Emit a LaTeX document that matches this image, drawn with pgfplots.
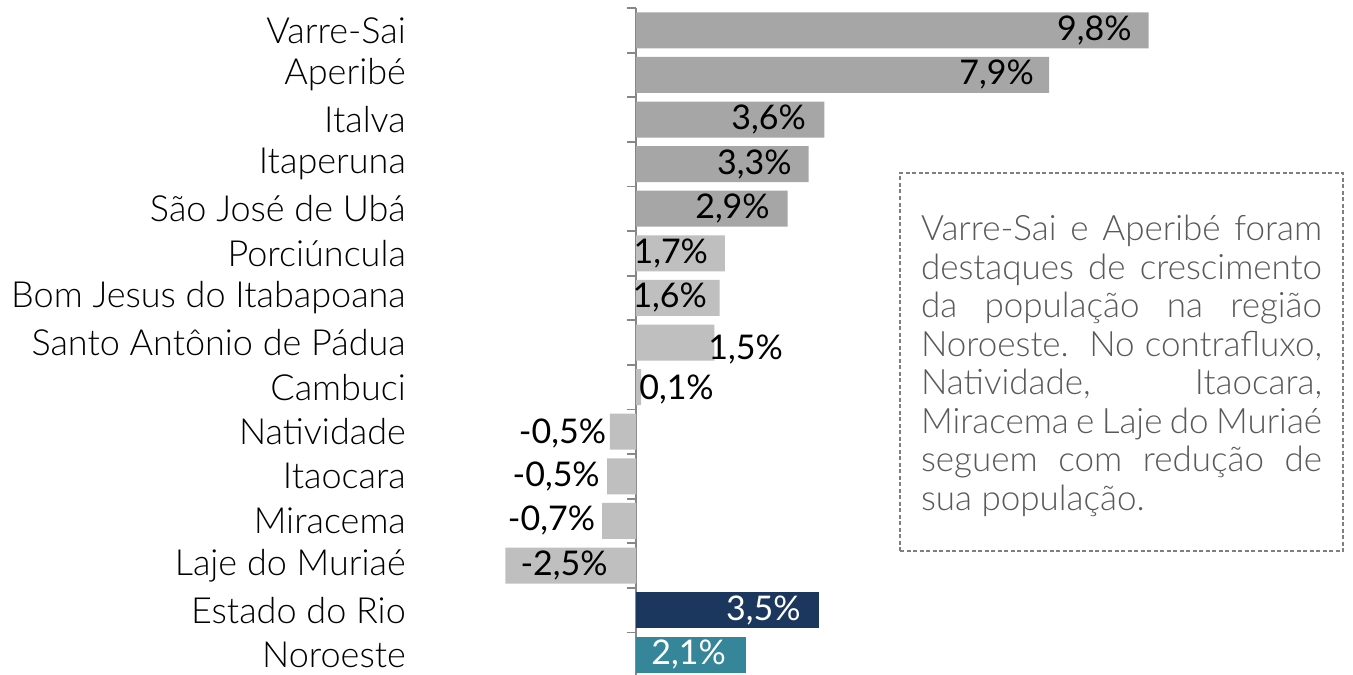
\documentclass[border=0pt]{standalone}
\usepackage{pgfplots}
\pgfplotsset{compat=1.18}
\usepackage{fontspec}
\setmainfont{Lato}
\newfontfamily\lightfont{Lato Light}
\definecolor{gdark}{HTML}{A6A6A6}
\definecolor{glight}{HTML}{BFBFBF}
\definecolor{navy}{HTML}{1C375E}
\definecolor{teal}{HTML}{348698}
\definecolor{axgray}{HTML}{878787}
\definecolor{txtgray}{HTML}{595959}
\definecolor{boxgray}{HTML}{7F7F7F}
\begin{document}
\begin{tikzpicture}
\begin{axis}[
  x=52.3bp, y=44.6bp, y dir=reverse,
  anchor=origin, at={(636bp,-30.3bp)},
  xmin=-2.7, xmax=10, ymin=-0.5, ymax=14.5,
  axis x line=none, axis y line=middle,
  inner axis line style={-, draw=axgray, line width=2bp},
  ytick={0,...,14},
  yticklabels={Varre-Sai,Aperibé,Italva,Itaperuna,São José de Ubá,Porciúncula,Bom Jesus do Itabapoana,Santo Antônio de Pádua,Cambuci,Natividade,Itaocara,Miracema,Laje do Muriaé,Estado do Rio,Noroeste},
  major tick length=0pt,
  minor ytick={-0.5,0.5,...,14.5},
  minor tick length=9bp,
  tick align=outside,
  minor tick style={draw=axgray, line width=1.8bp},
  yticklabel style={anchor=east, inner sep=0pt, xshift=-230bp, font=\lightfont\fontsize{36bp}{36bp}\selectfont, text=black},
  xbar, bar width=36bp, bar shift=0pt,
  clip=false,
  nodes near coords style={anchor=east, inner sep=0pt, font=\fontsize{34bp}{34bp}\selectfont},
]
\addplot[draw=none, fill=gdark] coordinates {(9.8,0) (7.9,1) (3.6,2) (3.3,3) (2.9,4)};
\addplot[draw=none, fill=glight] coordinates {(1.7,5) (1.6,6) (1.5,7) (0.1,8) (-0.5,9) (-0.55,10) (-0.65,11) (-2.5,12)};
\addplot[draw=none, fill=navy] coordinates {(3.5,13)};
\addplot[draw=none, fill=teal] coordinates {(2.1,14)};
\addplot[xbar=false, draw=none, mark=none, nodes near coords, point meta=explicit symbolic,
  every node near coord/.append style={anchor=east, text=black}] table[x=lx, y=ly, meta=lab] {
lx ly lab
9.48 0 9,8\%
7.61 1 7,9\%
3.25 2 3,6\%
2.98 3 3,3\%
2.56 4 2,9\%
1.38 5 1,7\%
1.36 6 1,6\%
2.81 7.16 1,5\%
1.49 8.05 0,1\%
-0.57 9.05 -0,5\%
-0.69 10 -0,5\%
-0.78 11 -0,7\%
-0.54 12 -2,5\%
};
\addplot[xbar=false, draw=none, mark=none, nodes near coords, point meta=explicit symbolic,
  every node near coord/.append style={anchor=east, text=white}] table[x=lx, y=ly, meta=lab] {
lx ly lab
3.15 13 3,5\%
1.72 14 2,1\%
};
\end{axis}
\node[draw=boxgray, dashed, dash pattern=on 4bp off 2.5bp, line width=1.5bp,
  text width=401bp, inner xsep=21bp, minimum height=378bp, align=justify,
  text=txtgray, font=\lightfont\fontsize{35bp}{38.5bp}\selectfont]
  at (1121.5bp,-362bp) {};
\node[text width=401bp, inner sep=0pt, align=justify,
  text=txtgray, font=\lightfont\fontsize{35bp}{38.5bp}\selectfont]
  at (1121.5bp,-366bp) {Varre-Sai e Aperibé foram\linebreak destaques de crescimento\linebreak da população na região\linebreak Noroeste.\ \ No contrafluxo,\linebreak Natividade, Itaocara,\linebreak Miracema e Laje do Muriaé\linebreak seguem com redução de\linebreak sua população.};
\pgfresetboundingbox
\path[use as bounding box] (0,0) rectangle (1353bp,-675bp);
\end{tikzpicture}
\end{document}
